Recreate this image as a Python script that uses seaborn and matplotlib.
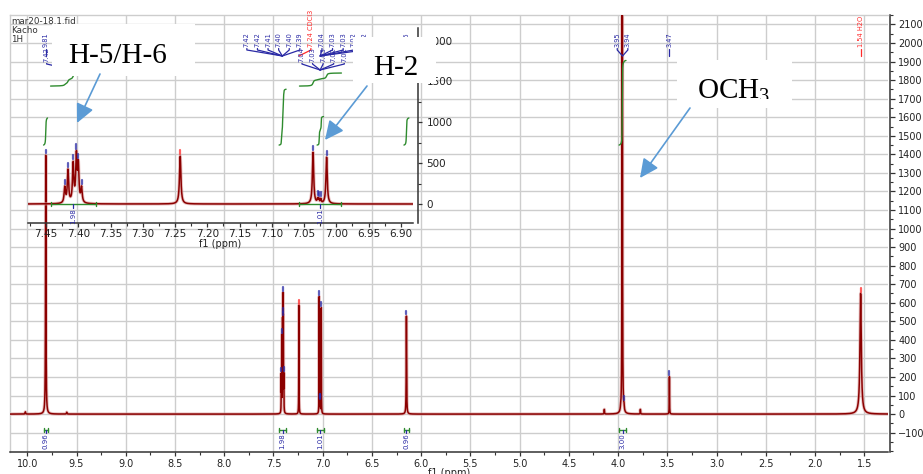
import numpy as np
import pandas as pd
import matplotlib
matplotlib.use("Agg")
import matplotlib.pyplot as plt
import seaborn as sns
from matplotlib.patches import Rectangle, FancyArrowPatch
from matplotlib.lines import Line2D
from matplotlib.transforms import Bbox, TransformedBbox
from matplotlib.ticker import MultipleLocator, FixedLocator, FormatStrFormatter

# ---- 1H NMR (CDCl3) peak list: shift (ppm), intensity, half width (ppm) ----
peak_ppm = [10.02, 9.813, 9.60, 7.421, 7.416, 7.408, 7.403, 7.400, 7.395, 7.242,
            7.036, 7.029, 7.027, 7.024, 7.015, 6.150, 4.140, 3.975, 3.958, 3.940,
            3.774, 3.479, 1.537]
peak_height = [12, 1395, 10, 190, 400, 470, 560, 440, 180, 585,
               630, 50, 50, 50, 570, 528, 25, 10, 9000, 25,
               25, 201, 650]
peak_hwhm = [0.003, 0.0025, 0.003, 0.0012, 0.0012, 0.0012, 0.0012, 0.0012, 0.0012, 0.0013,
             0.0012, 0.0008, 0.0008, 0.0008, 0.0012, 0.0022, 0.002, 0.003, 0.0012, 0.003,
             0.002, 0.0015, 0.008]

# peaks carrying a peak-top marker (solvent / water in red)
marked_ppm = [9.813, 7.421, 7.416, 7.408, 7.403, 7.400, 7.395, 7.242, 7.036, 7.029,
              7.027, 7.024, 7.015, 6.150, 3.958, 3.940, 3.479, 1.537]
solvent_ppm = [7.242, 1.537]

# integrals
integral_value = [0.96, 1.98, 1.01, 0.96, 3.00]
integral_label = ["0.96", "1.98", "1.01", "0.96", "3.00"]
integral_lo = [9.795, 7.372, 6.992, 6.125, 3.920]
integral_hi = [9.835, 7.443, 7.057, 6.175, 3.990]

# peak-label groups: (texts, anchor ppm, colour)
main_labels = [
    (["9.81"], 9.813, "blue"),
    (["7.42", "7.42", "7.41", "7.40", "7.40", "7.39"], 7.410, "blue"),
    (["7.24 CDCl3"], 7.242, "red"),
    (["7.04", "7.03", "7.03", "7.02", "7.02"], 7.026, "blue"),
    (["6.15"], 6.150, "blue"),
    (["3.95", "3.94"], 3.955, "blue"),
    (["3.47"], 3.479, "blue"),
    (["1.54 H2O"], 1.537, "red"),
]
inset_labels = [
    (["7.42", "7.42", "7.41", "7.40", "7.40", "7.39"], 7.408, "blue"),
    (["7.24 CDCl3"], 7.242, "red"),
    (["7.04", "7.03", "7.03", "7.02", "7.02"], 7.025, "blue"),
]
main_label_shift = [0, -9, 12, 23, 0, 0, 0, 0]
inset_label_shift = [0, 0, 3]

header_lines = ["mar20-18.1.fid", "Kacho", "1H"]

W, H = 923, 474
RED = "#8b0000"
HALO = "#d99a9a"
BLUE = "#2a2aa5"
PINK = "#ff2a2a"
GREEN = "#2e8b2e"
GRID = "#cdcdcd"
ARROW = "#5b9bd5"


def spectrum(x):
    x = np.asarray(x, dtype=float)[:, None]
    p = np.asarray(peak_ppm)[None, :]
    h = np.asarray(peak_height)[None, :]
    w = np.asarray(peak_hwhm)[None, :]
    return (h / (1.0 + ((x - p) / w) ** 2)).sum(axis=1)


sns.set_theme(style="white")
plt.rcParams["font.family"] = ["DejaVu Sans"]
plt.rcParams["mathtext.fontset"] = "custom"
plt.rcParams["mathtext.rm"] = "Liberation Serif"

fig = plt.figure(figsize=(W / 100, H / 100), dpi=100)
fig.patch.set_facecolor("white")


def ff(xp, yp):
    """pixel position (from top-left) -> figure fraction"""
    return xp / W, 1 - yp / H


# ---------------- main spectrum ----------------
ax = fig.add_axes([10 / W, 1 - 452.3 / H, 878 / W, (452.3 - 15) / H])
x_main = np.union1d(np.linspace(1.259, 10.176, 60001), peak_ppm)[::-1]
df_main = pd.DataFrame({"ppm": x_main, "intensity": spectrum(x_main)})
sns.lineplot(data=df_main, x="ppm", y="intensity", ax=ax, color=HALO, lw=2.4,
             alpha=0.6, estimator=None, sort=False, legend=False, zorder=2)
sns.lineplot(data=df_main, x="ppm", y="intensity", ax=ax, color=RED, lw=1.1,
             estimator=None, sort=False, legend=False, zorder=3)
ax.set_xlim(10.176, 1.259)
ax.set_ylim(-206, 2151)

ax.xaxis.set_major_locator(MultipleLocator(0.5))
ax.xaxis.set_minor_locator(MultipleLocator(0.25))
ax.xaxis.set_major_formatter(FormatStrFormatter("%.1f"))
ax.yaxis.tick_right()
ax.yaxis.set_major_locator(FixedLocator(np.arange(-100, 2101, 100)))
ax.yaxis.set_minor_locator(MultipleLocator(50))
ax.grid(True, which="major", color=GRID, lw=1.0)
ax.set_axisbelow(True)
ax.tick_params(axis="x", which="major", direction="out", length=3, width=0.9,
               color="#333333", labelsize=7, pad=2, labelcolor="#222222", bottom=True)
ax.tick_params(axis="x", which="minor", direction="out", length=2, width=0.8,
               color="#333333", bottom=True)
ax.tick_params(axis="y", which="major", direction="out", length=3.5, width=0.9,
               color="#333333", labelsize=7, pad=2.5, labelcolor="#222222", right=True, left=False)
ax.tick_params(axis="y", which="minor", direction="out", length=2, width=0.8,
               color="#333333", right=True, left=False)
ax.set_xlabel("f1 (ppm)", fontsize=7, labelpad=-1, color="#222222")
ax.set_ylabel("")
for side in ("top", "left"):
    ax.spines[side].set_color(GRID)
    ax.spines[side].set_linewidth(1.0)
for side in ("bottom", "right"):
    ax.spines[side].set_color("#333333")
    ax.spines[side].set_linewidth(1.1)
ax.spines["right"].set_position(("outward", 1.5))

# main integrals: bar, value and integral curve
for val, lab, lo, hi in zip(integral_value, integral_label, integral_lo, integral_hi):
    mid = 0.5 * (lo + hi)
    ax.plot([lo, hi], [-85, -85], color=GREEN, lw=1.0, zorder=4)
    ax.plot([lo, lo], [-96, -74], color=GREEN, lw=1.0, zorder=4)
    ax.plot([hi, hi], [-96, -74], color=GREEN, lw=1.0, zorder=4)
    ax.plot([mid, mid], [-85, -100], color=BLUE, lw=0.9, zorder=4)
    ax.text(mid, -101, lab, rotation=90, ha="center", va="top", fontsize=5,
            color=BLUE, zorder=4)
    seg = np.linspace(hi, lo, 400)
    cum = np.cumsum(spectrum(seg))
    cum = (cum - cum[0]) / (cum[-1] - cum[0])
    ax.plot(seg, 1450 + 152 * val * cum, color=GREEN, lw=1.0, zorder=4)

# peak-top markers
for p in marked_ppm:
    v = spectrum([p])[0]
    c = PINK if p in solvent_ppm else BLUE
    ax.plot([p, p], [v + 10, v + 30], color=c, lw=1.6, alpha=0.75, zorder=4)

# ---------------- inset: aromatic region ----------------
ax_in = fig.add_axes([28 / W, 1 - 222.7 / H, 385 / W, (222.7 - 28) / H])
ax_in.patch.set_alpha(0.0)
x_in = np.union1d(np.linspace(6.881, 7.478, 8001),
                  [p for p in peak_ppm if 6.881 <= p <= 7.478])[::-1]
df_in = pd.DataFrame({"ppm": x_in, "intensity": spectrum(x_in)})
sns.lineplot(data=df_in, x="ppm", y="intensity", ax=ax_in, color=HALO, lw=2.4,
             alpha=0.6, estimator=None, sort=False, legend=False, zorder=2)
sns.lineplot(data=df_in, x="ppm", y="intensity", ax=ax_in, color=RED, lw=1.1,
             estimator=None, sort=False, legend=False, zorder=3)
ax_in.set_xlim(7.478, 6.881)
ax_in.set_ylim(-229, 2155)
ax_in.xaxis.set_major_locator(MultipleLocator(0.05))
ax_in.xaxis.set_minor_locator(MultipleLocator(0.025))
ax_in.xaxis.set_major_formatter(FormatStrFormatter("%.2f"))
ax_in.yaxis.tick_right()
ax_in.yaxis.set_major_locator(FixedLocator([0, 500, 1000, 1500, 2000]))
ax_in.yaxis.set_minor_locator(MultipleLocator(250))
ax_in.grid(False)
ax_in.tick_params(axis="x", which="major", direction="out", length=3, width=0.9,
                  color="#333333", labelsize=7.5, pad=1.5, labelcolor="#222222", bottom=True)
ax_in.tick_params(axis="x", which="minor", direction="out", length=2, width=0.8,
                  color="#333333", bottom=True)
ax_in.tick_params(axis="y", which="major", direction="out", length=3, width=0.9,
                  color="#333333", labelsize=7.5, pad=3, labelcolor="#222222", right=True, left=False)
ax_in.tick_params(axis="y", which="minor", direction="out", length=2, width=0.8,
                  color="#333333", right=True, left=False)
ax_in.set_xlabel("f1 (ppm)", fontsize=7, labelpad=0, color="#222222")
ax_in.set_ylabel("")
ax_in.spines["left"].set_visible(False)
ax_in.spines["top"].set_visible(False)
for side in ("bottom", "right"):
    ax_in.spines[side].set_color("#333333")
    ax_in.spines[side].set_linewidth(1.1)
ax_in.spines["right"].set_position(("outward", 3.6))

for val, lab, lo, hi in zip(integral_value, integral_label, integral_lo, integral_hi):
    if not (6.881 < lo and hi < 7.478):
        continue
    mid = 0.5 * (lo + hi)
    ax_in.plot([lo, hi], [0, 0], color=GREEN, lw=1.0, zorder=4)
    ax_in.plot([lo, lo], [-30, 30], color=GREEN, lw=1.0, zorder=4)
    ax_in.plot([hi, hi], [-30, 30], color=GREEN, lw=1.0, zorder=4)
    ax_in.plot([mid, mid], [0, -45], color=BLUE, lw=0.9, zorder=4)
    ax_in.text(mid, -50, lab, rotation=90, ha="center", va="top", fontsize=5,
               color=BLUE, zorder=4)
    seg = np.linspace(hi, lo, 600)
    cum = np.cumsum(spectrum(seg))
    cum = (cum - cum[0]) / (cum[-1] - cum[0])
    ax_in.plot(seg, 1444 + 158 * val * cum, color=GREEN, lw=1.0, zorder=4)

for p in marked_ppm:
    if not (6.881 <= p <= 7.478):
        continue
    v = spectrum([p])[0]
    c = PINK if p in solvent_ppm else BLUE
    ax_in.plot([p, p], [v + 25, v + 75], color=c, lw=1.6, alpha=0.75, zorder=4)


# ---------------- peak labels (vertical text with connectors) ----------------
def fig_line(xs, ys, color, lw=0.9):
    fx = [x / W for x in xs]
    fy = [1 - y / H for y in ys]
    fig.add_artist(Line2D(fx, fy, transform=fig.transFigure, color=color, lw=lw, zorder=2))


def draw_labels(axis, groups, shifts, y_bottom, y_fan, y_vertex):
    for (texts, anchor, col), sh in zip(groups, shifts):
        color = PINK if col == "red" else BLUE
        vx = axis.transData.transform((anchor, 0))[0]
        n = len(texts)
        xs = vx + sh + (np.arange(n) - (n - 1) / 2) * 10.6
        for t, x in zip(texts, xs):
            fig.text(x / W, 1 - y_bottom / H, t, rotation=90, ha="center", va="bottom",
                     fontsize=4.8, color=color, zorder=2)
            fig_line([x, x, vx], [y_bottom + 1.5, y_fan, y_vertex], color)


draw_labels(ax, main_labels, main_label_shift, 47, 50, 56)
draw_labels(ax_in, inset_labels, inset_label_shift, 62, 64, 70)

# header
for i, line in enumerate(header_lines):
    fig.text(11.5 / W, 1 - (16.5 + 9.5 * i) / H, line, ha="left", va="top",
             fontsize=6.3, color="#333333", zorder=2)

# ---------------- assignment call-outs ----------------
# (box extents, label, text anchor, lower clip edge of the text)
boxes = [
    ((52, 24.5, 195, 76), "H-5/H-6", (68, 63), 76),
    ((353, 37, 436, 83), "H-2", (373, 75), 83),
    ((677, 60, 792, 108), "OCH$_3$", (697, 98), 99.5),
]
for (x0, y0, x1, y1), label, (tx, ty), clip_y in boxes:
    fx0, fy1 = ff(x0, y1)
    fig.add_artist(Rectangle((fx0, fy1), (x1 - x0) / W, (y1 - y0) / H,
                             transform=fig.transFigure, facecolor="white",
                             edgecolor="none", zorder=5))
    t = fig.text(tx / W, 1 - ty / H, label, ha="left", va="baseline",
                 family="Liberation Serif", fontsize=21, color="black", zorder=6)
    t.set_clip_box(TransformedBbox(Bbox.from_extents(fx0, 1 - clip_y / H, x1 / W, 1 - y0 / H),
                                   fig.transFigure))
    t.set_clip_on(True)

arrows = [((100, 74), (77, 123)), ((367, 86), (325, 140)), ((690, 108), (640, 178))]
for (xa, ya), (xb, yb) in arrows:
    fig.add_artist(FancyArrowPatch(ff(xa, ya), ff(xb, yb), transform=fig.transFigure,
                                   arrowstyle="-|>,head_length=1.15,head_width=0.55",
                                   mutation_scale=10, color=ARROW, lw=1.2,
                                   shrinkA=0, shrinkB=0, zorder=7))

fig.savefig("out.png", dpi=100, facecolor="white")
